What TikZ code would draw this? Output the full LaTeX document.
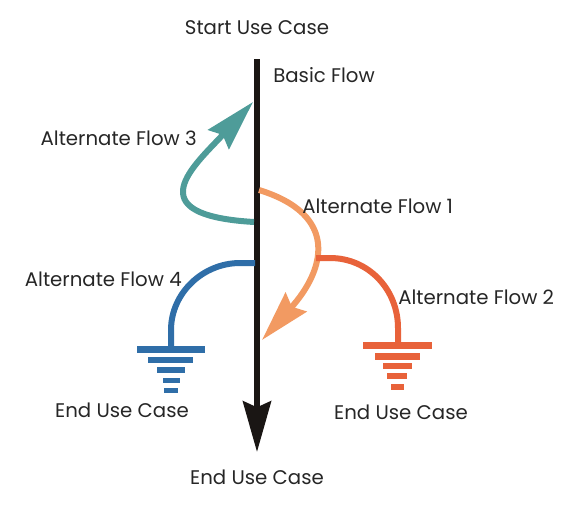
\documentclass[tikz,border=0pt]{standalone}
\usepackage{fontspec}
\setmainfont{Poppins}
\usetikzlibrary{arrows.meta}
\definecolor{cteal}{RGB}{78,156,153}
\definecolor{corange}{RGB}{242,154,98}
\definecolor{cred}{RGB}{232,98,58}
\definecolor{cblue}{RGB}{47,110,168}
\definecolor{cblack}{RGB}{26,22,20}
\tikzset{
  lbl/.style={inner sep=0pt, font=\fontsize{14.8}{17}\selectfont, text=black!85},
  flow/.style={line width=4.5pt},
  bighead/.style={-{Stealth[length=38pt,width=21pt,inset=4.5pt]}},
}
\begin{document}
\begin{tikzpicture}[x=0.75pt,y=-0.75pt]
\useasboundingbox (0,0) rectangle (568,511);
% main line
\coordinate (top) at (257,59);
\coordinate (bottom) at (257,452);
\draw[flow, cblack, bighead] (top) -- (bottom);
% teal flow 3
\coordinate (t3s) at (254,222);
\coordinate (t3e) at (253,102);
\draw[flow, cteal, bighead] (t3s) .. controls (135,215) and (195,165) .. (t3e);
% orange flow 1
\coordinate (o1s) at (259,190);
\coordinate (o1e) at (262,340);
\draw[flow, corange, bighead] (o1s) .. controls (340,215) and (325,270) .. (o1e);
% red flow 2
\coordinate (r2s) at (316,258);
\coordinate (r2e) at (398,345);
\draw[flow, cred] (r2s) -- (330,258) .. controls (368.5,258) and (398,289.5) .. (398,328) -- (r2e);
% blue flow 4
\coordinate (b4s) at (255,263);
\coordinate (b4e) at (171,348);
\draw[flow, cblue] (b4s) -- (240,263) .. controls (203,263) and (171,293) .. (171,330) -- (b4e);
% blue ground
\fill[cblue] (137,346) rectangle (205,353);
\fill[cblue] (148,357) rectangle (193,363);
\fill[cblue] (157,367) rectangle (185,373);
\fill[cblue] (163,378) rectangle (180,383);
\fill[cblue] (164,388) rectangle (178,393);
% red ground
\fill[cred] (363,342) rectangle (432,349);
\fill[cred] (375,353) rectangle (420,360);
\fill[cred] (383,363) rectangle (412,369);
\fill[cred] (387,373) rectangle (407,379);
\fill[cred] (391,384) rectangle (404,390);
% labels
\node[lbl] (start) at (257,28) {Start Use Case};
\node[lbl, anchor=west] (basic) at (273,75) {Basic Flow};
\node[lbl, anchor=east] (af3) at (197,138) {Alternate Flow 3};
\node[lbl, anchor=west] (af1) at (302,206) {Alternate Flow 1};
\node[lbl, anchor=east] (af4) at (182,279) {Alternate Flow 4};
\node[lbl, anchor=west] (af2) at (398,297) {Alternate Flow 2};
\node[lbl] (endl) at (122,410) {End Use Case};
\node[lbl] (endr) at (401,412) {End Use Case};
\node[lbl] (endb) at (257,477) {End Use Case};
\end{tikzpicture}
\end{document}
